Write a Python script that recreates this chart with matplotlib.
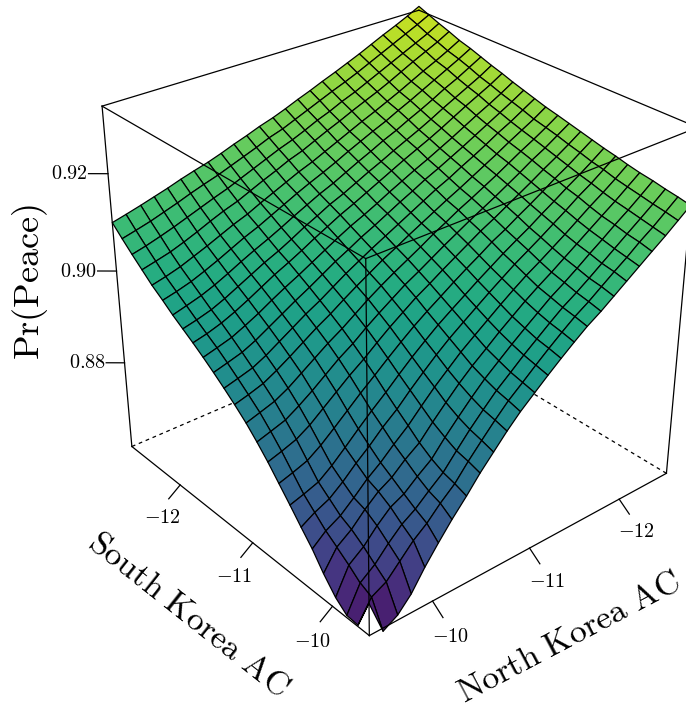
import matplotlib
matplotlib.use("Agg")
import matplotlib.pyplot as plt
from matplotlib.colors import PowerNorm
import numpy as np
from mpl_toolkits.mplot3d import proj3d

plt.rcParams['mathtext.fontset'] = 'cm'

north_ac = [-12.56, -12.43, -12.30, -12.16, -12.03, -11.90, -11.77, -11.64, -11.50, -11.37, -11.24, -11.11, -10.98,
            -10.84, -10.71, -10.58, -10.45, -10.32, -10.18, -10.05, -9.92, -9.79, -9.66, -9.52, -9.39]
south_ac = [-12.72, -12.59, -12.46, -12.33, -12.20, -12.06, -11.93, -11.80, -11.67, -11.54, -11.41, -11.28, -11.15,
            -11.01, -10.88, -10.75, -10.62, -10.49, -10.36, -10.23, -10.10, -9.96, -9.83, -9.70, -9.57]
# Pr(Peace) x 10^4, rows follow north_ac, columns follow south_ac
peace_e4 = [
    [9340, 9331, 9322, 9314, 9305, 9298, 9290, 9282, 9275, 9267, 9260, 9253, 9246, 9240, 9234, 9228, 9222, 9216, 9211, 9205, 9200, 9196, 9191, 9187, 9182],
    [9327, 9318, 9308, 9300, 9291, 9284, 9276, 9267, 9260, 9252, 9245, 9238, 9230, 9224, 9218, 9211, 9205, 9198, 9193, 9186, 9181, 9176, 9171, 9167, 9162],
    [9315, 9306, 9296, 9288, 9278, 9271, 9262, 9254, 9247, 9238, 9231, 9223, 9216, 9209, 9202, 9195, 9188, 9181, 9175, 9168, 9162, 9157, 9152, 9147, 9142],
    [9303, 9293, 9283, 9275, 9265, 9257, 9249, 9240, 9233, 9224, 9216, 9209, 9201, 9194, 9187, 9179, 9172, 9164, 9158, 9150, 9143, 9138, 9132, 9128, 9122],
    [9291, 9281, 9271, 9262, 9252, 9244, 9235, 9227, 9219, 9210, 9202, 9194, 9186, 9179, 9171, 9163, 9155, 9147, 9140, 9132, 9125, 9119, 9113, 9108, 9103],
    [9279, 9269, 9259, 9249, 9239, 9231, 9222, 9213, 9205, 9196, 9188, 9180, 9172, 9164, 9156, 9148, 9139, 9131, 9123, 9114, 9107, 9101, 9094, 9090, 9084],
    [9268, 9257, 9247, 9237, 9227, 9219, 9210, 9200, 9192, 9183, 9175, 9167, 9158, 9150, 9141, 9133, 9124, 9114, 9106, 9097, 9089, 9082, 9075, 9071, 9065],
    [9257, 9246, 9235, 9226, 9215, 9206, 9197, 9188, 9180, 9170, 9162, 9153, 9144, 9136, 9127, 9118, 9108, 9099, 9090, 9080, 9071, 9064, 9057, 9052, 9046],
    [9246, 9235, 9224, 9214, 9203, 9194, 9185, 9175, 9167, 9157, 9149, 9140, 9130, 9122, 9112, 9103, 9093, 9082, 9073, 9063, 9053, 9046, 9039, 9034, 9028],
    [9235, 9224, 9212, 9202, 9191, 9182, 9172, 9162, 9154, 9144, 9135, 9126, 9116, 9107, 9097, 9087, 9076, 9065, 9055, 9045, 9035, 9026, 9019, 9014, 9008],
    [9225, 9213, 9202, 9191, 9179, 9170, 9160, 9150, 9141, 9131, 9122, 9112, 9102, 9093, 9082, 9071, 9060, 9048, 9037, 9026, 9015, 9006, 8998, 8993, 8987],
    [9214, 9202, 9190, 9179, 9167, 9157, 9147, 9137, 9128, 9117, 9108, 9098, 9088, 9077, 9066, 9055, 9043, 9030, 9018, 9006, 8995, 8985, 8977, 8971, 8965],
    [9204, 9191, 9179, 9167, 9155, 9145, 9134, 9124, 9115, 9104, 9094, 9084, 9073, 9062, 9050, 9038, 9025, 9012, 8999, 8986, 8973, 8963, 8954, 8948, 8942],
    [9195, 9182, 9169, 9157, 9144, 9133, 9122, 9112, 9102, 9091, 9080, 9069, 9058, 9046, 9034, 9021, 9006, 8992, 8978, 8964, 8950, 8939, 8930, 8924, 8917],
    [9185, 9171, 9158, 9145, 9132, 9121, 9109, 9098, 9088, 9077, 9065, 9054, 9042, 9030, 9016, 9002, 8987, 8971, 8956, 8940, 8926, 8913, 8903, 8897, 8890],
    [9176, 9161, 9147, 9134, 9120, 9108, 9096, 9085, 9074, 9062, 9051, 9039, 9026, 9013, 8998, 8983, 8966, 8949, 8932, 8916, 8899, 8885, 8875, 8868, 8860],
    [9166, 9151, 9136, 9122, 9108, 9095, 9082, 9070, 9059, 9047, 9035, 9022, 9009, 8994, 8979, 8962, 8944, 8925, 8907, 8889, 8871, 8856, 8844, 8838, 8830],
    [9157, 9141, 9125, 9110, 9095, 9082, 9069, 9056, 9045, 9032, 9019, 9005, 8991, 8975, 8958, 8940, 8921, 8900, 8880, 8861, 8841, 8824, 8812, 8805, 8796],
    [9149, 9132, 9115, 9100, 9084, 9070, 9056, 9043, 9031, 9017, 9003, 8989, 8974, 8957, 8939, 8919, 8897, 8875, 8856, 8836, 8820, 8802, 8788, 8779, 8762],
    [9141, 9123, 9105, 9089, 9072, 9057, 9043, 9029, 9016, 9002, 8987, 8972, 8956, 8938, 8918, 8897, 8873, 8850, 8830, 8811, 8796, 8779, 8764, 8751, 8727],
    [9132, 9113, 9095, 9077, 9060, 9044, 9029, 9015, 9001, 8986, 8971, 8955, 8938, 8919, 8897, 8875, 8849, 8824, 8807, 8790, 8780, 8765, 8746, 8729, 8690],
    [9124, 9104, 9085, 9066, 9049, 9032, 9016, 9001, 8987, 8972, 8955, 8938, 8921, 8900, 8878, 8853, 8826, 8799, 8781, 8764, 8756, 8740, 8720, 8700, 8648],
    [9116, 9095, 9076, 9056, 9038, 9021, 9005, 8989, 8975, 8959, 8942, 8924, 8906, 8885, 8861, 8836, 8807, 8778, 8759, 8740, 8728, 8710, 8690, 8671, 8618],
    [9108, 9087, 9067, 9048, 9029, 9012, 8996, 8980, 8965, 8950, 8933, 8915, 8896, 8875, 8851, 8825, 8796, 8767, 8745, 8723, 8706, 8687, 8667, 8655, 8600],
    [9101, 9080, 9060, 9041, 9022, 9005, 8988, 8973, 8958, 8942, 8925, 8907, 8888, 8866, 8842, 8816, 8787, 8758, 8728, 8699, 8664, 8632, 8612, 8610, 8676],
]
ac_ticks = [-12, -11, -10]
peace_ticks = [0.88, 0.90, 0.92]
z_low = 0.8607
z_high = 0.9332

X, Y = np.meshgrid(north_ac, south_ac, indexing='ij')
Z = np.array(peace_e4)/10000
x0, x1 = min(north_ac), max(north_ac)
y0, y1 = min(south_ac), max(south_ac)

fig = plt.figure(figsize=(6.86, 7.10), dpi=100)
ax = fig.add_axes([52.6/686, 69/710, 669/686, 669/710], projection='3d')
ax.set_proj_type('persp', focal_length=0.5)
ax.view_init(elev=29.7, azim=50)
ax.set_box_aspect((1, 1, 0.985))
ax.set_xlim(x0, x1, view_margin=0)
ax.set_ylim(y0, y1, view_margin=0)
ax.set_zlim(z_low, z_high, view_margin=0)
ax.set_axis_off()
ax.computed_zorder = False

ax.plot_surface(X, Y, Z, rstride=1, cstride=1, cmap='viridis', norm=PowerNorm(0.75, vmin=0.8605, vmax=0.942),
                edgecolor='k', linewidth=0.9, shade=False, zorder=2)


def edge(a, b, **kw):
    ax.plot(*zip(a, b), color='k', lw=0.9, clip_on=False, **kw)


def label(x, y, z, s, **kw):
    px, py, _ = proj3d.proj_transform(x, y, z, ax.get_proj())
    ax.text2D(px, py, s, transform=ax.transData, va='center', fontsize=14.5, **kw)


# hidden floor and back edges, under the surface
for c in [(x0, y1, z_low), (x1, y0, z_low)]:
    edge(c, (x0, y0, z_low), ls=(0, (3, 3)), zorder=1)
# the rest of the box is drawn over the surface
edge((x1, y1, z_low), (x1, y0, z_low), zorder=3)
edge((x1, y1, z_low), (x0, y1, z_low), zorder=3)
edge((x1, y1, z_low), (x1, y1, z_high), zorder=3)
edge((x1, y0, z_low), (x1, y0, z_high), zorder=3)
edge((x0, y1, z_low), (x0, y1, z_high), zorder=3)
edge((x1, y1, z_high), (x1, y0, z_high), zorder=3)
edge((x1, y1, z_high), (x0, y1, z_high), zorder=3)
edge((x0, y0, z_high), (x1, y0, z_high), zorder=3)
edge((x0, y0, z_high), (x0, y1, z_high), zorder=3)

for t in ac_ticks:
    edge((x1, t, z_low), (x1+0.118, t, z_low-0.00195), zorder=3)
    label(x1+0.193, t, z_low-0.0055, f"$-{abs(t)}$", ha='center')
    edge((t, y1, z_low), (t, y1+0.119, z_low-0.0019), zorder=3)
    label(t, y1+0.205, z_low-0.0048, f"$-{abs(t)}$", ha='center')
for t in peace_ticks:
    edge((x1, y0, t), (x1+0.115, y0-0.097, t), zorder=3)
    label(x1+0.12, y0-0.10, t, f"${t:.2f}$", ha='right')

fig.text(30/686, 1-282/710, r"$\mathrm{Pr(Peace)}$", rotation=90, ha='center', va='center', fontsize=26)
fig.text(189/686, 1-614/710, r"$\mathrm{South\ Korea\ AC}$", rotation=-38.4, ha='center', va='center',
         rotation_mode='anchor', fontsize=24.5)
fig.text(569/686, 1-637/710, r"$\mathrm{North\ Korea\ AC}$", rotation=27.8, ha='center', va='center',
         rotation_mode='anchor', fontsize=24.5)

plt.savefig("out.png", dpi=100)
